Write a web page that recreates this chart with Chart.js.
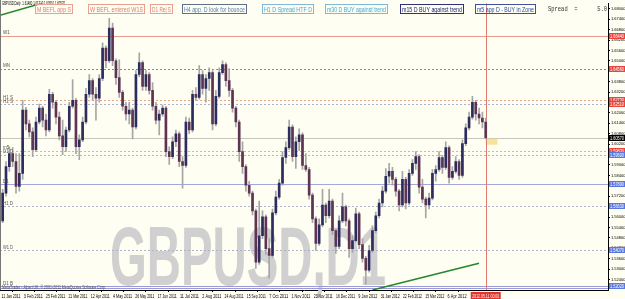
<!DOCTYPE html>
<html>
<head>
<meta charset="utf-8">
<script src="https://cdn.jsdelivr.net/npm/chart.js@4.4.0/dist/chart.umd.min.js"></script>
<style>
  html, body { margin: 0; padding: 0; background: #fefef2; }
  #wrap { width: 625px; height: 299px; }
</style>
</head>
<body>
<div id="wrap"><canvas id="chart" width="625" height="299"></canvas></div>
<script>
const symbolTitle = 'GBPUSD,Daily';
const watermark = 'GBPUSD,D1';
const cursorLabel = '2012.05.11 00:00';

const dateTicks = ['11 Jan 2011', '3 Feb 2011', '25 Feb 2011', '21 Mar 2011', '12 Apr 2011', '4 May 2011',
    '26 May 2011', '17 Jun 2011', '11 Jul 2011', '2 Aug 2011', '24 Aug 2011', '15 Sep 2011', '7 Oct 2011',
    '1 Nov 2011', '23 Nov 2011', '16 Dec 2011', '9 Jan 2012', '31 Jan 2012', '22 Feb 2012', '15 Mar 2012',
    '6 Apr 2012'];

// daily OHLC, one candle per ~2.5 sessions
const opens = [
    1.5578, 1.5738, 1.5891, 1.5966, 1.5920, 1.5777, 1.5852, 1.6216, 1.6137, 1.6091,
    1.5988, 1.6148, 1.6228, 1.6159, 1.6102, 1.6308, 1.6262, 1.6176, 1.6068, 1.6005,
    1.6102, 1.6239, 1.6273, 1.6005, 1.6045, 1.6148, 1.6308, 1.6387, 1.6308, 1.6285,
    1.6399, 1.6575, 1.6501, 1.6689, 1.6501, 1.6404, 1.6319, 1.6239, 1.6194, 1.6216,
    1.6119, 1.6422, 1.6490, 1.6353, 1.6422, 1.6330, 1.6239, 1.6159, 1.6194, 1.6228,
    1.5977, 1.5948, 1.6034, 1.6080, 1.5920, 1.5897, 1.6148, 1.6102, 1.6308, 1.6290,
    1.6422, 1.6342, 1.6399, 1.6433, 1.6137, 1.6296, 1.6433, 1.6479, 1.6387, 1.6330,
    1.6228, 1.6148, 1.5977, 1.5891, 1.5783, 1.5738, 1.5635, 1.5339, 1.5492, 1.5601,
    1.5418, 1.5378, 1.5624, 1.5715, 1.5795, 1.5943, 1.6000, 1.6119, 1.5948, 1.6034,
    1.6074, 1.5897, 1.5874, 1.5726, 1.5589, 1.5447, 1.5555, 1.5669, 1.5607, 1.5692,
    1.5521, 1.5430, 1.5578, 1.5658, 1.5578, 1.5418, 1.5464, 1.5618, 1.5441, 1.5361,
    1.5293, 1.5407, 1.5521, 1.5607, 1.5681, 1.5749, 1.5835, 1.5863, 1.5817, 1.5749,
    1.5669, 1.5817, 1.5681, 1.5852, 1.5909, 1.5948, 1.5772, 1.5703, 1.5669, 1.5709,
    1.5852, 1.5874, 1.5943, 1.5886, 1.6000, 1.5829, 1.5863, 1.5920, 1.5840, 1.6023,
    1.6114, 1.6176, 1.6262, 1.6194, 1.6171, 1.6148,
];
const highs = [
    1.5760, 1.5920, 1.6005, 1.6000, 1.5966, 1.5966, 1.6273, 1.6233, 1.6159, 1.6114,
    1.6176, 1.6251, 1.6239, 1.6194, 1.6336, 1.6319, 1.6273, 1.6205, 1.6159, 1.6119,
    1.6262, 1.6393, 1.6285, 1.6074, 1.6176, 1.6342, 1.6422, 1.6399, 1.6347, 1.6422,
    1.6604, 1.6587, 1.6746, 1.6718, 1.6513, 1.6507, 1.6330, 1.6262, 1.6262, 1.6228,
    1.6444, 1.6547, 1.6501, 1.6444, 1.6433, 1.6376, 1.6262, 1.6216, 1.6245, 1.6239,
    1.6005, 1.6062, 1.6102, 1.6091, 1.5948, 1.6176, 1.6171, 1.6330, 1.6347, 1.6473,
    1.6444, 1.6422, 1.6461, 1.6444, 1.6330, 1.6461, 1.6501, 1.6490, 1.6456, 1.6342,
    1.6239, 1.6159, 1.6034, 1.5903, 1.5806, 1.5749, 1.5646, 1.5692, 1.5635, 1.5612,
    1.5475, 1.5646, 1.5749, 1.5817, 1.5977, 1.6034, 1.6159, 1.6131, 1.6062, 1.6108,
    1.6085, 1.5966, 1.5886, 1.5738, 1.5601, 1.5589, 1.5760, 1.5681, 1.5760, 1.5703,
    1.5532, 1.5607, 1.5738, 1.5669, 1.5589, 1.5492, 1.5652, 1.5629, 1.5475, 1.5373,
    1.5436, 1.5549, 1.5629, 1.5703, 1.5777, 1.5880, 1.5909, 1.5886, 1.5829, 1.5760,
    1.5863, 1.5829, 1.5874, 1.5931, 1.5977, 1.5960, 1.5817, 1.5715, 1.5738, 1.5874,
    1.5897, 1.5977, 1.5954, 1.6034, 1.6011, 1.5891, 1.5948, 1.5931, 1.6045, 1.6137,
    1.6205, 1.6296, 1.6273, 1.6228, 1.6205, 1.6171,
];
const lows = [
    1.5567, 1.5720, 1.5863, 1.5891, 1.5738, 1.5749, 1.5817, 1.6102, 1.6062, 1.5948,
    1.5977, 1.6137, 1.6119, 1.6068, 1.6091, 1.6228, 1.6137, 1.6045, 1.5960, 1.5977,
    1.6091, 1.6228, 1.5966, 1.5931, 1.6034, 1.6137, 1.6290, 1.6273, 1.6159, 1.6262,
    1.6387, 1.6461, 1.6490, 1.6473, 1.6365, 1.6290, 1.6216, 1.6159, 1.6137, 1.6051,
    1.6108, 1.6410, 1.6330, 1.6330, 1.6308, 1.6216, 1.6137, 1.6074, 1.6182, 1.5948,
    1.5903, 1.5937, 1.6005, 1.5891, 1.5766, 1.5886, 1.6080, 1.6091, 1.6273, 1.6279,
    1.6308, 1.6262, 1.6330, 1.6102, 1.6125, 1.6285, 1.6422, 1.6353, 1.6296, 1.6205,
    1.6119, 1.5920, 1.5852, 1.5749, 1.5720, 1.5612, 1.5304, 1.5327, 1.5475, 1.5384,
    1.5247, 1.5367, 1.5612, 1.5703, 1.5783, 1.5909, 1.5988, 1.5920, 1.5880, 1.5983,
    1.5874, 1.5863, 1.5703, 1.5567, 1.5407, 1.5436, 1.5544, 1.5567, 1.5595, 1.5498,
    1.5390, 1.5418, 1.5567, 1.5549, 1.5367, 1.5396, 1.5453, 1.5418, 1.5339, 1.5213,
    1.5282, 1.5396, 1.5510, 1.5595, 1.5658, 1.5738, 1.5795, 1.5783, 1.5720, 1.5635,
    1.5658, 1.5646, 1.5669, 1.5840, 1.5874, 1.5738, 1.5681, 1.5595, 1.5646, 1.5698,
    1.5806, 1.5863, 1.5852, 1.5874, 1.5795, 1.5817, 1.5852, 1.5817, 1.5829, 1.6011,
    1.6102, 1.6165, 1.6159, 1.6137, 1.6114, 1.6051,
];
const closes = [
    1.5738, 1.5891, 1.5966, 1.5920, 1.5777, 1.5852, 1.6216, 1.6137, 1.6091, 1.5988,
    1.6148, 1.6228, 1.6159, 1.6102, 1.6308, 1.6262, 1.6176, 1.6068, 1.6005, 1.6102,
    1.6239, 1.6273, 1.6005, 1.6045, 1.6148, 1.6308, 1.6387, 1.6308, 1.6285, 1.6399,
    1.6575, 1.6501, 1.6689, 1.6501, 1.6404, 1.6319, 1.6239, 1.6194, 1.6216, 1.6119,
    1.6422, 1.6490, 1.6353, 1.6422, 1.6330, 1.6239, 1.6159, 1.6194, 1.6228, 1.5977,
    1.5948, 1.6034, 1.6080, 1.5920, 1.5897, 1.6148, 1.6102, 1.6308, 1.6290, 1.6422,
    1.6342, 1.6399, 1.6433, 1.6137, 1.6296, 1.6433, 1.6479, 1.6387, 1.6330, 1.6228,
    1.6148, 1.5977, 1.5891, 1.5783, 1.5738, 1.5635, 1.5339, 1.5492, 1.5601, 1.5418,
    1.5378, 1.5624, 1.5715, 1.5795, 1.5943, 1.6000, 1.6119, 1.5948, 1.6034, 1.6074,
    1.5897, 1.5874, 1.5726, 1.5589, 1.5447, 1.5555, 1.5669, 1.5607, 1.5692, 1.5521,
    1.5430, 1.5578, 1.5658, 1.5578, 1.5418, 1.5464, 1.5618, 1.5441, 1.5361, 1.5293,
    1.5407, 1.5521, 1.5607, 1.5681, 1.5749, 1.5835, 1.5863, 1.5817, 1.5749, 1.5669,
    1.5817, 1.5681, 1.5852, 1.5909, 1.5948, 1.5772, 1.5703, 1.5669, 1.5709, 1.5852,
    1.5874, 1.5943, 1.5886, 1.6000, 1.5829, 1.5863, 1.5920, 1.5840, 1.6023, 1.6114,
    1.6176, 1.6262, 1.6194, 1.6171, 1.6148, 1.6057,
];

// horizontal levels drawn on the chart
const levelPrices = [1.6644, 1.6456, 1.6273, 1.6251, 1.5983, 1.5960, 1.5789, 1.5663, 1.5407, 1.5202, 1.5190];
const levelNames = ['W1', 'MN', 'H1 S', 'H1 S', 'm5', 'D1 D', 'D1', 'H1 D', 'W1 D', 'D1 B', ''];

// trend lines: [candle index, price]
const trendUp = [[111, 1.5179], [143, 1.5333]];
const trendOld = [[-0.8, 1.6764], [12, 1.6834]];
const zoneBox = [145, 148.5, 1.6017, 1.6051];

const notes = ['M BEFL app S', 'W BEFL entered W1S', 'D1 Rej S', 'H4 app. D look for bounce',
    'H1 D Spread HTF D', 'm30 D BUY against trend', 'm15 D BUY against trend', 'm5 app D - BUY in Zone'];
const spreadText = 'Spread  =      5.0';

// ---- styles / layout ----
const BG = '#fefef2';
const SANS = '"Liberation Sans", Arial, sans-serif';
const levelStyles = [
    { color: '#ea9a8e', dash: [], tag: '#e8453c' },
    { color: '#e06a5a', dash: [2, 2], tag: '#e8453c' },
    { color: '#e8a484', dash: [2, 2], tag: '#e8453c' },
    { color: '#aab0d4', dash: [2, 2], tag: '#e8453c' },
    { color: '#e9ad90', dash: [2, 2], tag: '#e8453c' },
    { color: '#b0b4cc', dash: [2, 2], tag: '#5a78e0' },
    { color: '#a4a6dc', dash: [], tag: '#5a78e0' },
    { color: '#aeb2c8', dash: [2, 2], tag: '#5a78e0' },
    { color: '#aeb2c8', dash: [2, 2], tag: '#5a78e0' },
    { color: '#9a9ad8', dash: [], tag: '#5a78e0' },
    { color: '#9a9ad8', dash: [], tag: null },
];
const noteBoxes = [
    { x: 35, w: 37, color: '#e07b6b', border: '#e8a090' },
    { x: 88, w: 56, color: '#e07b6b', border: '#e8a090' },
    { x: 150, w: 22, color: '#e07b6b', border: '#e8a090' },
    { x: 182, w: 64, color: '#4f7fb5', border: '#60708a' },
    { x: 262, w: 51, color: '#38a8dc', border: '#80b8d8' },
    { x: 325, w: 62, color: '#38a8dc', border: '#80b8d8' },
    { x: 400, w: 63, color: '#20207a', border: '#30307a' },
    { x: 475, w: 60, color: '#2848b0', border: '#4050a0' },
];
const tickStart = -0.5, tickStep = 6.695;

function fitText(ctx, text, x, y, width, font) {
    ctx.save();
    ctx.font = font;
    const w = ctx.measureText(text).width;
    ctx.translate(x, y);
    ctx.scale(Math.min(1, width / w), 1);
    ctx.fillText(text, 0, 0);
    ctx.restore();
}

const mtOverlay = {
    id: 'mtOverlay',
    beforeDraw(chart) {
        const ctx = chart.ctx;
        ctx.save();
        ctx.fillStyle = BG;
        ctx.fillRect(0, 0, chart.width, chart.height);
        ctx.restore();
    },
    beforeDatasetsDraw(chart) {
        const { ctx, chartArea: a, scales: { x, y } } = chart;
        ctx.save();
        // watermark
        ctx.fillStyle = '#d0d0d0';
        ctx.textBaseline = 'alphabetic';
        fitText(ctx, watermark, 110, 285, 276, 'bold 83px ' + SANS);

        // levels
        ctx.lineWidth = 1;
        levelPrices.forEach((p, i) => {
            const py = Math.round(y.getPixelForValue(p)) + 0.5;
            ctx.strokeStyle = levelStyles[i].color;
            ctx.setLineDash(levelStyles[i].dash);
            ctx.beginPath();
            ctx.moveTo(a.left, py);
            ctx.lineTo(a.right, py);
            ctx.stroke();
        });
        // bid line
        const last = closes.length - 1;
        const by = Math.round(y.getPixelForValue(closes[last])) + 0.5;
        ctx.setLineDash([]);
        ctx.strokeStyle = '#c6c6bc';
        ctx.beginPath();
        ctx.moveTo(a.left, by);
        ctx.lineTo(a.right, by);
        ctx.stroke();

        // zone rectangle
        const zx1 = x.getPixelForValue(zoneBox[0]), zx2 = x.getPixelForValue(zoneBox[1]);
        const zy1 = y.getPixelForValue(zoneBox[3]), zy2 = y.getPixelForValue(zoneBox[2]);
        ctx.fillStyle = '#f5e49a';
        ctx.fillRect(zx1, zy1, zx2 - zx1, zy2 - zy1);

        // vertical cursor line
        const vx = Math.round(x.getPixelForValue(last)) + 0.5;
        ctx.strokeStyle = '#e07a72';
        ctx.beginPath();
        ctx.moveTo(vx, a.top);
        ctx.lineTo(vx, a.bottom);
        ctx.stroke();
        ctx.restore();
    },
    afterDraw(chart) {
        const { ctx, chartArea: a, scales: { x, y } } = chart;
        const last = closes.length - 1;
        ctx.save();
        ctx.textBaseline = 'alphabetic';

        // frame left edge
        ctx.strokeStyle = '#777';
        ctx.beginPath();
        ctx.moveTo(0.5, 0);
        ctx.lineTo(0.5, a.bottom);
        ctx.stroke();

        // date labels under the x ticks (MT4 squeezes them)
        ctx.fillStyle = '#000';
        x.ticks.forEach((t, k) => {
            fitText(ctx, dateTicks[k], x.getPixelForValue(t.value) + 0.5, a.bottom + 7.5, 19, '5.5px ' + SANS);
        });

        // header line
        const head = symbolTitle + '  ' + [opens[last], highs[last], lows[last], closes[last]]
            .map((v) => v.toFixed(5)).join(' ');
        fitText(ctx, head, 2, 5, 63, '5px ' + SANS);

        // note boxes
        notes.forEach((t, i) => {
            const b = noteBoxes[i];
            ctx.strokeStyle = b.border;
            ctx.lineWidth = 1;
            ctx.strokeRect(b.x + 0.5, 4.5, b.w, 9);
            ctx.fillStyle = b.color;
            fitText(ctx, t, b.x + 2, 11.5, b.w - 3, '6.5px ' + SANS);
        });
        ctx.fillStyle = '#333';
        fitText(ctx, spreadText, 548, 11, 59, '7px "Liberation Mono", "DejaVu Sans Mono", monospace');

        // level names on the left
        ctx.fillStyle = '#555';
        levelPrices.forEach((p, i) => {
            if (!levelNames[i]) return;
            const py = y.getPixelForValue(p);
            fitText(ctx, levelNames[i], 3, py - 1.5, 10, '4.5px ' + SANS);
        });
        fitText(ctx, 'MetaTrader - Alpari UK, \u00a9 2001-2011 MetaQuotes Software Corp.', 2, 289, 104, '4.5px ' + SANS);

        // price tags on the right axis
        const tag = (p, bg, fg) => {
            const py = Math.round(y.getPixelForValue(p));
            ctx.fillStyle = bg;
            ctx.fillRect(a.right + 1, py - 3, chart.width - a.right - 1, 6);
            ctx.fillStyle = fg;
            fitText(ctx, p.toFixed(5), a.right + 2, py + 2, 14, '4.5px ' + SANS);
        };
        levelPrices.forEach((p, i) => {
            if (levelStyles[i].tag) tag(p, levelStyles[i].tag, '#fff');
        });
        tag(closes[last], '#000', '#fff');

        // cursor date tag
        const vx = x.getPixelForValue(last);
        ctx.fillStyle = '#e0342c';
        ctx.fillRect(vx - 15, a.bottom + 2, 30, 7);
        ctx.fillStyle = '#fff';
        fitText(ctx, cursorLabel, vx - 13.5, a.bottom + 7.5, 27, '5px ' + SANS);
        ctx.restore();
    },
};

const bull = '#2c2c5e', bear = '#5e3452';

new Chart(document.getElementById('chart'), {
    type: 'bar',
    data: {
        datasets: [
            {
                type: 'line',
                data: trendUp.map(([i, p]) => ({ x: i, y: p })),
                borderColor: '#23862a',
                borderWidth: 1.5,
                pointRadius: 0,
                order: 0,
            },
            {
                type: 'line',
                data: trendOld.map(([i, p]) => ({ x: i, y: p })),
                borderColor: '#23862a',
                borderWidth: 1.5,
                pointRadius: 0,
                order: 0,
            },
            {
                data: opens.map((o, i) => ({ x: i, y: [o, closes[i]] })),
                backgroundColor: closes.map((c, i) => (c >= opens[i] ? bull : bear)),
                barThickness: 2,
                minBarLength: 1,
                grouped: false,
                order: 1,
            },
            {
                data: lows.map((l, i) => ({ x: i, y: [l, highs[i]] })),
                backgroundColor: '#a6a6a6',
                barThickness: 1,
                grouped: false,
                order: 2,
            },
        ],
    },
    options: {
        responsive: false,
        animation: false,
        devicePixelRatio: 1,
        layout: { padding: 0 },
        plugins: { legend: { display: false }, tooltip: { enabled: false } },
        scales: {
            x: {
                type: 'linear',
                position: 'bottom',
                min: -0.8,
                max: 181.7,
                offset: false,
                afterBuildTicks: (s) => {
                    s.ticks = dateTicks.map((_, k) => ({ value: tickStart + k * tickStep }));
                },
                afterFit: (s) => { s.height = 9; },
                ticks: { display: false },
                grid: { drawOnChartArea: false, tickLength: 2, color: '#000' },
                border: { color: '#000' },
            },
            y: {
                position: 'right',
                min: 1.5179,
                max: 1.6832,
                afterBuildTicks: (s) => {
                    s.ticks = s.ticks.filter((t) => t.value > s.min + 0.003 && t.value < s.max - 0.003);
                },
                afterFit: (s) => { s.width = 17; },
                ticks: {
                    stepSize: 0.006,
                    includeBounds: false,
                    padding: 1,
                    color: '#000',
                    font: { size: 4, family: SANS },
                    callback: (v) => v.toFixed(5),
                },
                grid: { drawOnChartArea: false, tickLength: 2, color: '#000' },
                border: { color: '#000' },
            },
        },
    },
    plugins: [mtOverlay],
});
</script>
</body>
</html>
